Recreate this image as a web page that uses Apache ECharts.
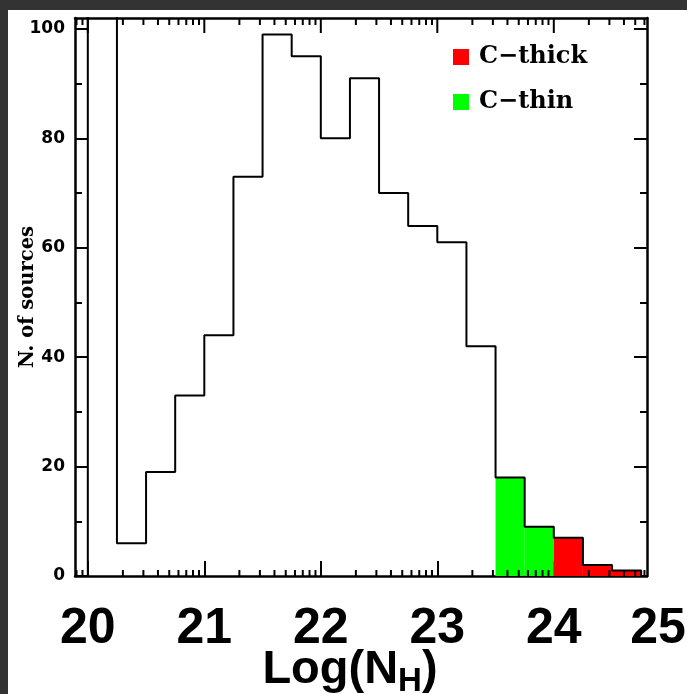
<!DOCTYPE html>
<html>
<head>
<meta charset="utf-8">
<script src="https://cdn.jsdelivr.net/npm/echarts@6/dist/echarts.min.js"></script>
<style>
  html, body { margin: 0; padding: 0; background: #fff; }
  #chart { width: 687px; height: 694px; }
</style>
</head>
<body>
<div id="chart"></div>
<script>
// ---- data ----
const binStarts   = [20.00, 20.25, 20.50, 20.75, 21.00, 21.25, 21.50, 21.75, 22.00, 22.25,
                     22.50, 22.75, 23.00, 23.25, 23.50, 23.75, 24.00, 24.25, 24.50];
const binWidth    = 0.25;
const totalCounts = [140, 6, 19, 33, 44, 73, 99, 95, 80, 91, 70, 64, 61, 42, 18, 9, 7, 2, 1];
const thinStarts  = [23.50, 23.75];
const thinCounts  = [18, 9];
const thickStarts = [24.00, 24.25, 24.50];
const thickCounts = [7, 2, 1];
const xTickValues = [20, 21, 22, 23, 24, 25];
const xTickLabels = ['20', '21', '22', '23', '24', '25'];
const yTickValues = [0, 20, 40, 60, 80, 100];
const yMinorTicks = [10, 30, 50, 70, 90];

const X_MIN = 19.89, X_MAX = 24.80, Y_MIN = 0, Y_MAX = 102;

// log-style minor ticks inside each decade
const xMinorTicks = [];
for (let n = 19; n <= 24; n++) {
  for (let k = 2; k <= 9; k++) {
    const v = n + Math.log10(k);
    if (v >= X_MIN && v <= X_MAX) xMinorTicks.push(v);
  }
}
const xMajorInRange = xTickValues.filter(v => v >= X_MIN && v <= X_MAX);

// outline of the histogram
const outline = [[binStarts[0], 0]];
binStarts.forEach((s, i) => {
  outline.push([s, totalCounts[i]]);
  outline.push([s + binWidth, totalCounts[i]]);
});
outline.push([binStarts[binStarts.length - 1] + binWidth, 0]);

const chart = echarts.init(document.getElementById('chart'), null, { renderer: 'canvas' });

const BLACK = '#000';
const lineW = 2.5;
const BIGFONT = "'Liberation Sans Narrow', 'Liberation Sans', Arial, sans-serif";

function xAxisDef(grid, position, ticks, len, showLine) {
  return {
    type: 'value', position: position, min: X_MIN, max: X_MAX, gridIndex: grid,
    axisLine: { show: showLine, onZero: false, lineStyle: { color: BLACK, width: lineW } },
    axisTick: { show: ticks.length > 0, inside: true, length: len, customValues: ticks,
                lineStyle: { color: BLACK, width: 2 } },
    axisLabel: { show: false },
    splitLine: { show: false }
  };
}
function yAxisDef(grid, position, ticks, len, showLine) {
  return {
    type: 'value', position: position, min: Y_MIN, max: Y_MAX, gridIndex: grid,
    axisLine: { show: showLine, onZero: false, lineStyle: { color: BLACK, width: lineW } },
    axisTick: { show: true, inside: true, length: len, customValues: ticks,
                lineStyle: { color: BLACK, width: 2 } },
    axisLabel: { show: false },
    splitLine: { show: false }
  };
}

const xAxes = [
  xAxisDef(0, 'bottom', xMajorInRange, 15, true),
  xAxisDef(0, 'top', [], 15, true),
  xAxisDef(1, 'bottom', [], 7, false)
];
xAxes[0].axisLabel = {
  show: true, customValues: xMajorInRange,
  formatter: v => xTickLabels[xTickValues.indexOf(Math.round(v))],
  color: BLACK, fontWeight: 'bold', fontSize: 50, margin: 28, fontFamily: BIGFONT
};
xAxes[0].name = '{a|Log(N}{b|H}{a|)}';
xAxes[0].nameLocation = 'middle';
xAxes[0].nameGap = 67;
xAxes[0].nameMoveOverlap = false;
xAxes[0].nameTextStyle = {
  color: BLACK, padding: [0, 22, 0, 0],
  rich: {
    a: { fontSize: 47, fontWeight: 'bold', color: BLACK, fontFamily: BIGFONT },
    b: { fontSize: 33, fontWeight: 'bold', color: BLACK, padding: [22, 0, 0, 0], fontFamily: BIGFONT }
  }
};

const yAxes = [
  yAxisDef(0, 'left', yTickValues, 13, true),
  yAxisDef(0, 'right', yTickValues, 13, true),
  yAxisDef(1, 'left', yMinorTicks, 7, false),
  yAxisDef(1, 'right', yMinorTicks, 7, false)
];
yAxes[0].axisLabel = {
  show: true, customValues: yTickValues, color: BLACK, fontWeight: 'bold',
  fontSize: 17, margin: 10, fontFamily: "'DejaVu Sans', sans-serif"
};
yAxes[0].name = 'N. of sources';
yAxes[0].nameLocation = 'middle';
yAxes[0].nameGap = 37;
yAxes[0].nameRotate = 90;
yAxes[0].nameMoveOverlap = false;
yAxes[0].nameTextStyle = { color: BLACK, fontSize: 19.5, fontWeight: 'bold',
                           fontFamily: "'DejaVu Serif', serif" };

function binRender(params, api) {
  const x0 = api.value(0), v = api.value(1);
  const p0 = api.coord([x0, v]);
  const p1 = api.coord([x0 + binWidth, 0]);
  const rect = echarts.graphic.clipRectByRect(
    { x: p0[0], y: p0[1], width: p1[0] - p0[0], height: p1[1] - p0[1] },
    { x: params.coordSys.x, y: params.coordSys.y,
      width: params.coordSys.width, height: params.coordSys.height });
  return rect && { type: 'rect', shape: rect, style: { fill: api.visual('color') } };
}

// tick marks along the top/bottom frame, placed through the x and y scales
function tickRender(len) {
  return function (params, api) {
    const edge = api.value(1);
    const p = api.coord([api.value(0), edge]);
    const down = edge >= Y_MAX;
    return {
      type: 'rect', silent: true,
      shape: { x: p[0] - 1, y: down ? p[1] : p[1] - len, width: 2, height: len },
      style: { fill: BLACK }
    };
  };
}
function tickSeries(values, edgeY, len) {
  return {
    type: 'custom', xAxisIndex: 0, yAxisIndex: 0, z: 10, silent: true, clip: false,
    renderItem: tickRender(len),
    data: values.map(v => [v, edgeY])
  };
}

const gridBox = { left: 75, right: 40, top: 18, bottom: 118, outerBoundsMode: 'none', containLabel: false };

chart.setOption({
  backgroundColor: '#ffffff',
  animation: false,
  grid: [Object.assign({}, gridBox), Object.assign({}, gridBox)],
  xAxis: xAxes,
  yAxis: yAxes,
  legend: {
    orient: 'vertical', left: 453, top: 45, itemGap: 21, padding: 0,
    icon: 'rect', itemWidth: 16, itemHeight: 16,
    data: ['C\u2212thick', 'C\u2212thin'],
    textStyle: { color: BLACK, fontSize: 24, fontWeight: 'bold', lineHeight: 18,
                 fontFamily: "'DejaVu Serif', serif", padding: [0, 0, 0, 5] }
  },
  series: [
    {
      name: 'C\u2212thin', type: 'custom', xAxisIndex: 0, yAxisIndex: 0, z: 1,
      itemStyle: { color: '#00ff00' },
      renderItem: binRender,
      data: thinStarts.map((s, i) => [s, thinCounts[i]])
    },
    {
      name: 'C\u2212thick', type: 'custom', xAxisIndex: 0, yAxisIndex: 0, z: 1,
      itemStyle: { color: '#ff0000' },
      renderItem: binRender,
      data: thickStarts.map((s, i) => [s, thickCounts[i]])
    },
    {
      name: 'all', type: 'line', xAxisIndex: 0, yAxisIndex: 0, z: 3,
      showSymbol: false, symbol: 'none', clip: true,
      lineStyle: { color: BLACK, width: 2 },
      data: outline
    },
    tickSeries(xMajorInRange, Y_MAX, 15),
    tickSeries(xMinorTicks, Y_MAX, 7),
    tickSeries(xMinorTicks, Y_MIN, 6)
  ]
});

// dark page edges of the reference (they lie outside the plot) and the last decade label,
// which sits beyond the frame but is kept inside the page as in the reference
const lastVal = xTickValues[xTickValues.length - 1];
const px = chart.convertToPixel({ xAxisIndex: 0 }, lastVal);
const py0 = chart.convertToPixel({ yAxisIndex: 0 }, 0);
chart.setOption({
  graphic: [{
    type: 'rect', silent: true, shape: { x: 0, y: 0, width: 687, height: 10 },
    style: { fill: '#333333' }
  }, {
    type: 'rect', silent: true, shape: { x: 0, y: 0, width: 8, height: 694 },
    style: { fill: '#333333' }
  }, {
    type: 'text', z: 10,
    x: Math.min(px, 686 - 28), y: py0 + 28,
    style: {
      text: xTickLabels[xTickLabels.length - 1], fill: BLACK,
      font: "bold 50px " + BIGFONT, align: 'center', verticalAlign: 'top'
    }
  }]
});
</script>
</body>
</html>
